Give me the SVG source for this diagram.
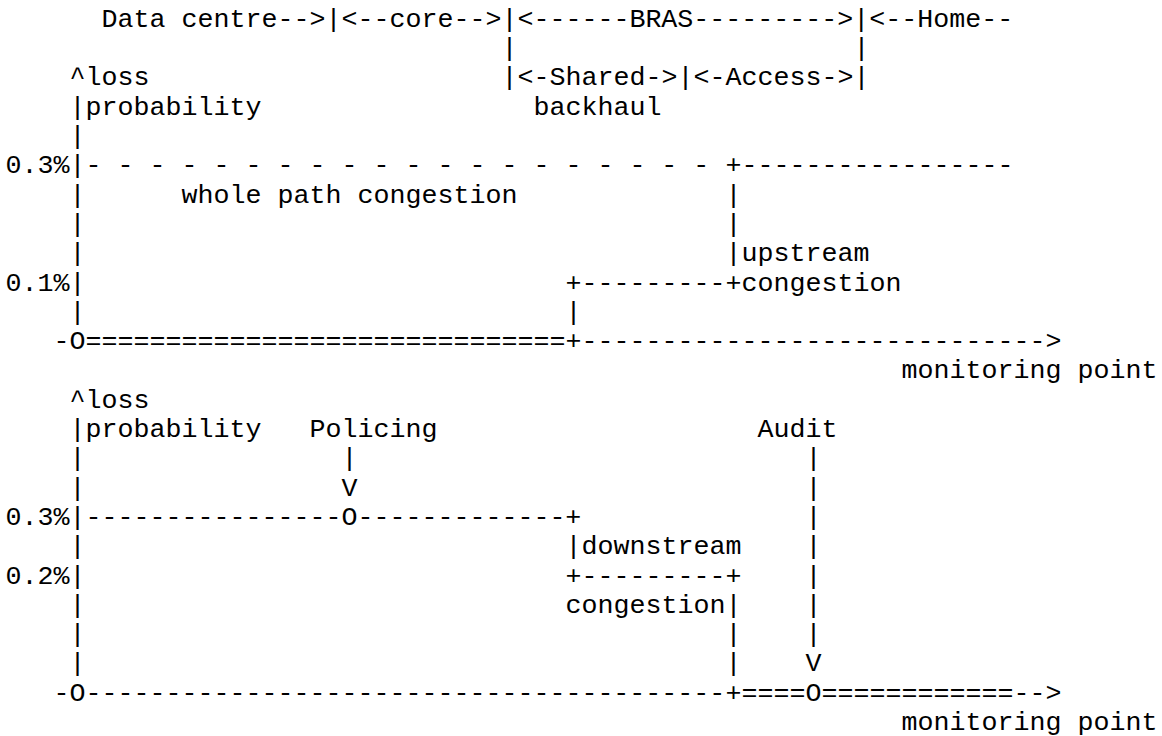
<svg xmlns="http://www.w3.org/2000/svg" width="1162" height="736" viewBox="0 0 1162 736">
  <style>
    text { font-family: "Liberation Mono", "Courier New", monospace; font-size: 26.67px; fill: #000; white-space: pre; }
  </style>
  <rect width="1162" height="736" fill="#fff"/>

  <!-- network segments along the path; column x = 5.5 + 16 * col -->
  <g id="path-segments">
    <text x="101.5" y="26.8">Data centre--&gt;|&lt;--core--&gt;|&lt;------BRAS---------&gt;|&lt;--Home--</text>
    <text x="501.5" y="56.1">|</text>
    <text x="853.5" y="56.1">|</text>
    <text x="501.5" y="85.4">|&lt;-Shared-&gt;|&lt;-Access-&gt;|</text>
    <text x="533.5" y="114.7">backhaul</text>
  </g>

  <!-- upper chart: whole path vs upstream congestion -->
  <g id="upstream-chart">
    <text x="69.5" y="85.4">^loss</text>
    <text x="69.5" y="114.7">|probability</text>
    <text x="69.5" y="144.0">|</text>
    <text x="5.5" y="173.3">0.3%|</text>
    <text x="85.5" y="173.3">- - - - - - - - - - - - - - - - - - - -</text>
    <text x="725.5" y="173.3">+-----------------</text>
    <text x="69.5" y="202.6">|</text>
    <text x="181.5" y="202.6">whole path congestion</text>
    <text x="725.5" y="202.6">|</text>
    <text x="69.5" y="231.9">|</text>
    <text x="725.5" y="231.9">|</text>
    <text x="69.5" y="261.2">|</text>
    <text x="725.5" y="261.2">|upstream</text>
    <text x="5.5" y="290.5">0.1%|</text>
    <text x="565.5" y="290.5">+---------+congestion</text>
    <text x="69.5" y="319.8">|</text>
    <text x="565.5" y="319.8">|</text>
    <text x="53.5" y="349.1">-O</text>
    <text x="85.5" y="349.1">==============================</text>
    <text x="565.5" y="349.1">+-----------------------------&gt;</text>
    <text x="901.5" y="378.4">monitoring point</text>
  </g>

  <!-- lower chart: policing and audit against downstream congestion -->
  <g id="downstream-chart">
    <text x="69.5" y="407.7">^loss</text>
    <text x="69.5" y="437.0">|probability</text>
    <text x="309.5" y="437.0">Policing</text>
    <text x="757.5" y="437.0">Audit</text>
    <text x="69.5" y="466.3">|</text>
    <text x="341.5" y="466.3">|</text>
    <text x="805.5" y="466.3">|</text>
    <text x="69.5" y="495.6">|</text>
    <text x="341.5" y="495.6">V</text>
    <text x="805.5" y="495.6">|</text>
    <text x="5.5" y="524.9">0.3%|----------------O-------------+</text>
    <text x="805.5" y="524.9">|</text>
    <text x="69.5" y="554.2">|</text>
    <text x="565.5" y="554.2">|downstream</text>
    <text x="805.5" y="554.2">|</text>
    <text x="5.5" y="583.5">0.2%|</text>
    <text x="565.5" y="583.5">+---------+</text>
    <text x="805.5" y="583.5">|</text>
    <text x="69.5" y="612.8">|</text>
    <text x="565.5" y="612.8">congestion|</text>
    <text x="805.5" y="612.8">|</text>
    <text x="69.5" y="642.1">|</text>
    <text x="725.5" y="642.1">|</text>
    <text x="805.5" y="642.1">|</text>
    <text x="69.5" y="671.4">|</text>
    <text x="725.5" y="671.4">|</text>
    <text x="805.5" y="671.4">V</text>
    <text x="53.5" y="700.7">-O----------------------------------------</text>
    <text x="725.5" y="700.7">+====O============--&gt;</text>
    <text x="901.5" y="730.0">monitoring point</text>
  </g>
</svg>
